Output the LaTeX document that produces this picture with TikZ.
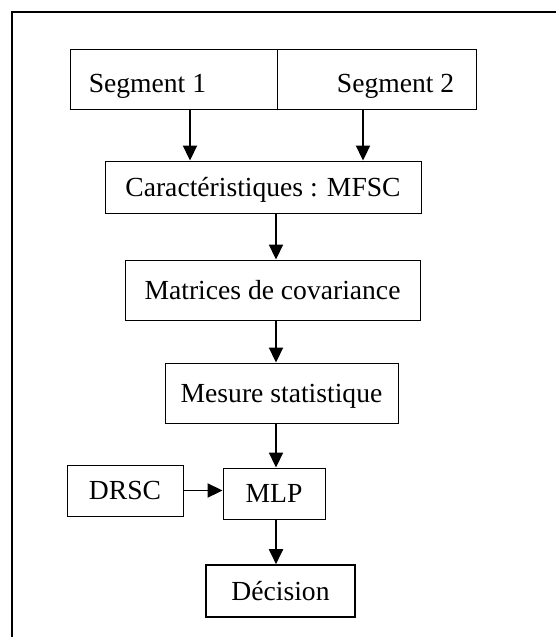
\documentclass[tikz,border=0pt]{standalone}
\usepackage{fontspec}
\setmainfont{Liberation Serif}
\usetikzlibrary{arrows.meta}
\begin{document}
\begin{tikzpicture}[x=1pt,y=-1pt,
  box/.style={draw=black,line width=0.9pt,rectangle,inner sep=0pt,
    text height=18.5pt,text depth=0pt,
    font=\fontsize{27.6}{30}\selectfont},
  lbl/.style={inner sep=0pt,text height=18.5pt,text depth=0pt,
    font=\fontsize{27.6}{30}\selectfont},
  arr/.style={line width=1.9pt,-{Triangle[length=15pt,width=14pt]}},
  frame/.style={line width=1.3pt}]
\useasboundingbox (0,0) rectangle (555,637);
% outer frame, running off the right and bottom edges
\draw[frame] (12,650) -- (12,12) -- (570,12);
% two input segments side by side
\node[box,minimum width=207pt,minimum height=60pt] (seg1) at (173.5,79) {};
\node[box,minimum width=199pt,minimum height=60pt] (seg2) at (376.5,79) {};
\node[lbl,anchor=west] (t1) at ([xshift=19pt,yshift=-4pt]seg1.west) {Segment 1};
\node[lbl,anchor=east] (t2) at ([xshift=-22pt,yshift=-4pt]seg2.east) {Segment 2};
% processing chain
\node[box,minimum width=316pt,minimum height=52pt] (carac) at (263,187) {Caractéristiques : MFSC};
\node[box,minimum width=295pt,minimum height=60pt] (mat) at (272.5,290) {Matrices de covariance};
\node[box,minimum width=233pt,minimum height=60pt] (mes) at (281.5,393) {Mesure statistique};
\node[box,minimum width=102pt,minimum height=51pt] (mlp) at (274,493.5) {MLP};
\node[box,minimum width=116pt,minimum height=51pt] (drsc) at (125,490.5) {DRSC};
\node[box,line width=1.6pt,minimum width=149pt,minimum height=52pt] (dec) at (280.5,591) {Décision};
% column used by the vertical connectors
\coordinate (axis) at (276,0);
% connectors
\draw[arr] ([xshift=16.5pt]seg1.south) -- ([xshift=16.5pt]seg1.south |- carac.north);
\draw[arr] ([xshift=-13.5pt]seg2.south) -- ([xshift=-13.5pt]seg2.south |- carac.north);
\draw[arr] (carac.south -| axis) -- (mat.north -| axis);
\draw[arr] (mat.south -| axis) -- (mes.north -| axis);
\draw[arr] (mes.south -| axis) -- (mlp.north -| axis);
\draw[arr] (drsc.east) -- (drsc.east -| mlp.west);
\draw[arr] (mlp.south -| axis) -- (dec.north -| axis);
\end{tikzpicture}
\end{document}
